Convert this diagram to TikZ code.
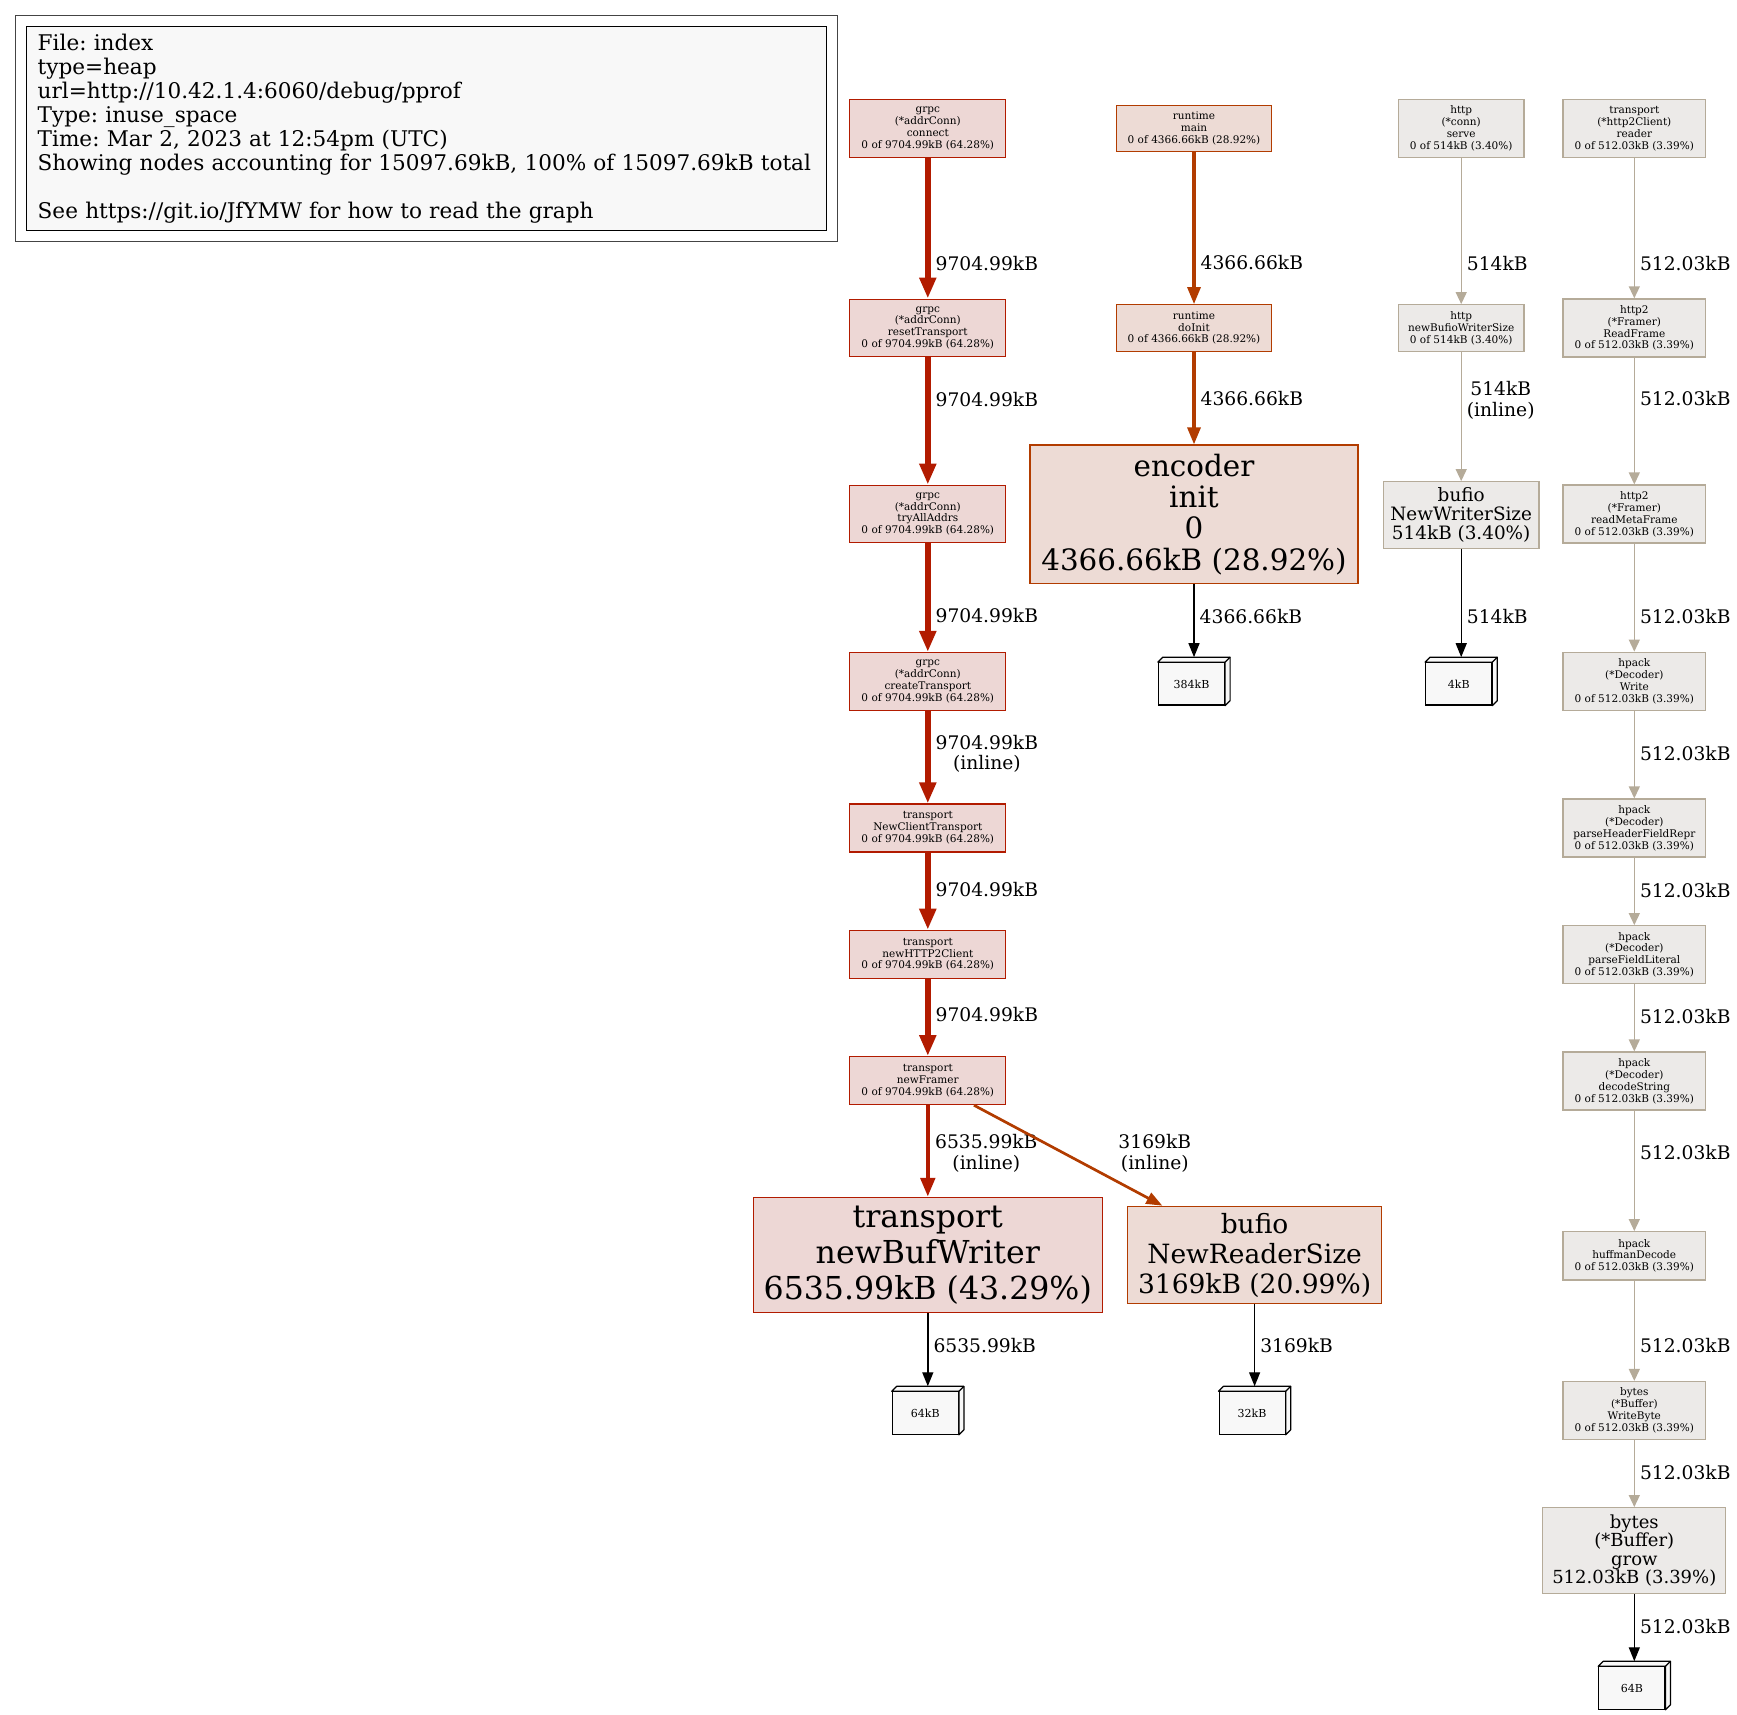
\documentclass[tikz,border=0pt]{standalone}
\usepackage{fontspec}
\setmainfont{DejaVu Serif}
\usepackage{tikz}
\usetikzlibrary{arrows.meta}
\frenchspacing
\definecolor{hotLine}{HTML}{B21B00}
\definecolor{hotFill}{HTML}{EDD7D5}
\definecolor{warmLine}{HTML}{B23C00}
\definecolor{warmFill}{HTML}{EDDBD5}
\definecolor{coldLine}{HTML}{B5AB99}
\definecolor{coldFill}{HTML}{ECEAE8}
\definecolor{memFill}{HTML}{F8F8F8}
\definecolor{legendFrame}{HTML}{444444}

\begin{document}
\begin{tikzpicture}[x=1pt, y=-1pt,
        fn/.style={draw, rectangle, align=center, inner sep=0pt, line width=1.2pt, font=\fontsize{10.5}{11.9}\selectfont},
        hotfn/.style={fn, fill=hotFill, draw=hotLine, minimum width=156},
        warmfn/.style={fn, fill=warmFill, draw=warmLine},
        coldfn/.style={fn, fill=coldFill, draw=coldLine},
        rows4/.style={minimum height=57.6},
        rows3/.style={minimum height=48},
        mem/.style={draw=black, fill=memFill, line width=1.2pt, minimum width=66, minimum height=42.3, inner sep=0pt, font=\fontsize{11}{12}\selectfont},
        lbl/.style={anchor=west, xshift=5pt, inner sep=0pt, align=center, font=\fontsize{18.7}{20.7}\selectfont},
        hotarr/.style={-{Triangle[length=21pt, width=16pt]}, line width=5.7pt, draw=hotLine},
        hotarrb/.style={-{Triangle[length=19pt, width=14pt]}, line width=4.6pt, draw=hotLine},
        warmarr/.style={-{Triangle[length=17pt, width=13pt]}, line width=3.2pt, draw=warmLine},
        warmarrb/.style={-{Triangle[length=16pt, width=12pt]}, line width=2.7pt, draw=warmLine},
        coldarr/.style={-{Triangle[length=12pt, width=11pt]}, line width=1.4pt, draw=coldLine},
        memarr/.style={-{Triangle[length=14pt, width=11pt]}, line width=1.4pt, draw=black}
    ]
    \useasboundingbox (0,0) rectangle (1737,1715);

    % Legend
    \node[draw=black, line width=1pt, fill=memFill, minimum width=799.8, minimum height=203.3,
          text width=777.8, inner xsep=11pt, inner ysep=0pt, align=left,
          font=\fontsize{21.6}{24}\selectfont] (legend) at (426.6, 128.35)
          {File: index\\type=heap\\url=http://10.42.1.4:6060/debug/pprof\\Type: inuse\_space\\Time: Mar 2, 2023 at 12:54pm (UTC)\\\mbox{Showing nodes accounting for 15097.69kB, 100\% of 15097.69kB total}\\\mbox{}\\See https://git.io/JfYMW for how to read the graph};
    \draw[draw=legendFrame, line width=1pt] ([shift={(-10.7pt,10.7pt)}]legend.north west) rectangle ([shift={(10.7pt,-10.7pt)}]legend.south east);

    % grpc -> transport
    \node[hotfn, rows4] (gconn) at (927.8, 128.5) {grpc\\(*addrConn)\\connect\\0 of 9704.99kB (64.28\%)};
    \node[hotfn, rows4] (greset) at (927.8, 327.9) {grpc\\(*addrConn)\\resetTransport\\0 of 9704.99kB (64.28\%)};
    \node[hotfn, rows4] (gtry) at (927.8, 514) {grpc\\(*addrConn)\\tryAllAddrs\\0 of 9704.99kB (64.28\%)};
    \node[hotfn, rows4] (gcreate) at (927.8, 681.3) {grpc\\(*addrConn)\\createTransport\\0 of 9704.99kB (64.28\%)};
    \node[hotfn, rows3] (tnct) at (927.8, 828) {transport\\NewClientTransport\\0 of 9704.99kB (64.28\%)};
    \node[hotfn, rows3] (tnh2) at (927.8, 954.3) {transport\\newHTTP2Client\\0 of 9704.99kB (64.28\%)};
    \node[hotfn, rows3] (tnf) at (927.8, 1080.6) {transport\\newFramer\\0 of 9704.99kB (64.28\%)};
    \node[hotfn, minimum width=349, minimum height=115, font=\fontsize{31.6}{36}\selectfont] (tbw) at (927.8, 1255) {transport\\newBufWriter\\6535.99kB (43.29\%)};
    \node[mem] (m64k) at (925.3, 1413) {64kB};

    % runtime -> encoder
    \node[warmfn, minimum width=155, minimum height=46.6] (rmain) at (1194, 128.5) {runtime\\main\\0 of 4366.66kB (28.92\%)};
    \node[warmfn, minimum width=155, minimum height=46.6] (rinit) at (1194, 328) {runtime\\doInit\\0 of 4366.66kB (28.92\%)};
    \node[warmfn, minimum width=328, minimum height=138.8, font=\fontsize{29.4}{31.4}\selectfont] (enc) at (1194, 514.4) {encoder\\init\\0\\4366.66kB (28.92\%)};
    \node[mem] (m384) at (1191.5, 683.9) {384kB};

    % bufio reader
    \node[warmfn, minimum width=253.6, minimum height=97.5, font=\fontsize{26.5}{30}\selectfont] (brs) at (1254.6, 1255) {bufio\\NewReaderSize\\3169kB (20.99\%)};
    \node[mem] (m32k) at (1252.1, 1413) {32kB};

    % http -> bufio writer
    \node[coldfn, minimum width=125.7, rows4] (hserve) at (1461.2, 128.5) {http\\(*conn)\\serve\\0 of 514kB (3.40\%)};
    \node[coldfn, minimum width=125.7, minimum height=46.6] (hnbws) at (1461.2, 328) {http\\newBufioWriterSize\\0 of 514kB (3.40\%)};
    \node[coldfn, minimum width=155.7, minimum height=66.6, font=\fontsize{18.4}{18.8}\selectfont] (bnws) at (1461.2, 515) {bufio\\NewWriterSize\\514kB (3.40\%)};
    \node[mem] (m4) at (1458.7, 683.9) {4kB};

    % transport reader -> bytes
    \node[coldfn, minimum width=142.7, minimum height=58] (treader) at (1634.3, 128.6) {transport\\(*http2Client)\\reader\\0 of 512.03kB (3.39\%)};
    \node[coldfn, minimum width=142.7, minimum height=58] (frf) at (1634.3, 327.9) {http2\\(*Framer)\\ReadFrame\\0 of 512.03kB (3.39\%)};
    \node[coldfn, minimum width=142.7, minimum height=58] (frmf) at (1634.3, 514) {http2\\(*Framer)\\readMetaFrame\\0 of 512.03kB (3.39\%)};
    \node[coldfn, minimum width=142.7, minimum height=58] (dwrite) at (1634.3, 681.2) {hpack\\(*Decoder)\\Write\\0 of 512.03kB (3.39\%)};
    \node[coldfn, minimum width=142.7, minimum height=58] (dphfr) at (1634.3, 828) {hpack\\(*Decoder)\\parseHeaderFieldRepr\\0 of 512.03kB (3.39\%)};
    \node[coldfn, minimum width=142.7, minimum height=58] (dpfl) at (1634.3, 954.7) {hpack\\(*Decoder)\\parseFieldLiteral\\0 of 512.03kB (3.39\%)};
    \node[coldfn, minimum width=142.7, minimum height=58] (dds) at (1634.3, 1081) {hpack\\(*Decoder)\\decodeString\\0 of 512.03kB (3.39\%)};
    \node[coldfn, minimum width=142.7, minimum height=48.3] (dhuff) at (1634.3, 1255.8) {hpack\\huffmanDecode\\0 of 512.03kB (3.39\%)};
    \node[coldfn, minimum width=142.7, minimum height=58] (bwb) at (1634.3, 1410.5) {bytes\\(*Buffer)\\WriteByte\\0 of 512.03kB (3.39\%)};
    \node[coldfn, minimum width=183, minimum height=85.7, font=\fontsize{18}{18.6}\selectfont] (bgrow) at (1634.3, 1550.5) {bytes\\(*Buffer)\\grow\\512.03kB (3.39\%)};
    \node[mem] (m64b) at (1631.8, 1688) {64B};

    % 3d faces of the memory boxes
    \foreach \m in {m64k, m384, m32k, m4, m64b} {
        \filldraw[fill=memFill, line width=1.2pt, line join=round] (\m.north west) -- ++(5,-5) -- ([shift={(5pt,5pt)}]\m.north east) -- ([shift={(5pt,5pt)}]\m.south east) -- (\m.south east) -- (\m.north east) -- cycle;
        \draw[line width=1.2pt] (\m.north east) -- ++(5,-5);
    }

    % Edges grpc -> transport
    \draw[hotarr] (gconn) -- node[lbl, pos=0.748] (e1) {9704.99kB} (greset);
    \draw[hotarr] (greset) -- node[lbl, pos=0.328] (e2) {9704.99kB} (gtry);
    \draw[hotarr] (gtry) -- node[lbl, pos=0.667] (e3) {9704.99kB} (gcreate);
    \draw[hotarr] (gcreate) -- node[lbl, pos=0.465] (e4) {9704.99kB\\(inline)} (tnct);
    \draw[hotarr] (tnct) -- node[lbl, pos=0.475] (e5) {9704.99kB} (tnh2);
    \draw[hotarr] (tnh2) -- node[lbl, pos=0.465] (e6) {9704.99kB} (tnf);
    \draw[hotarrb] (tnf) -- node[lbl, pos=0.524] (e7) {6535.99kB\\(inline)} (tbw);
    \draw[warmarrb] (tnf) -- node[lbl, pos=0.477, anchor=center, xshift=86pt] (e8) {3169kB\\(inline)} (brs);
    \draw[memarr] (tbw) -- node[lbl, pos=0.438] (e9) {6535.99kB} ([shift={(2.5pt,5pt)}]m64k.north);
    \draw[memarr] (brs) -- node[lbl, pos=0.497] (e10) {3169kB} ([shift={(2.5pt,5pt)}]m32k.north);

    % Edges runtime -> encoder
    \draw[warmarr] (rmain) -- node[lbl, pos=0.729] (e11) {4366.66kB} (rinit);
    \draw[warmarr] (rinit) -- node[lbl, pos=0.507] (e12) {4366.66kB} (enc);
    \draw[memarr] (enc) -- node[lbl, pos=0.442] (e13) {4366.66kB} ([shift={(2.5pt,5pt)}]m384.north);

    % Edges http -> bufio
    \draw[coldarr] (hserve) -- node[lbl, pos=0.724] (e14) {514kB} (hnbws);
    \draw[coldarr] (hnbws) -- node[lbl, pos=0.374] (e15) {514kB\\(inline)} (bnws);
    \draw[memarr] (bnws) -- node[lbl, pos=0.628] (e16) {514kB} ([shift={(2.5pt,5pt)}]m4.north);

    % Edges transport reader -> bytes
    \draw[coldarr] (treader) -- node[lbl, pos=0.753] (e17) {512.03kB} (frf);
    \draw[coldarr] (frf) -- node[lbl, pos=0.327] (e18) {512.03kB} (frmf);
    \draw[coldarr] (frmf) -- node[lbl, pos=0.673] (e19) {512.03kB} (dwrite);
    \draw[coldarr] (dwrite) -- node[lbl, pos=0.487] (e20) {512.03kB} (dphfr);
    \draw[coldarr] (dphfr) -- node[lbl, pos=0.481] (e21) {512.03kB} (dpfl);
    \draw[coldarr] (dpfl) -- node[lbl, pos=0.483] (e22) {512.03kB} (dds);
    \draw[coldarr] (dds) -- node[lbl, pos=0.351] (e23) {512.03kB} (dhuff);
    \draw[coldarr] (dhuff) -- node[lbl, pos=0.644] (e24) {512.03kB} (bwb);
    \draw[coldarr] (bwb) -- node[lbl, pos=0.477] (e25) {512.03kB} (bgrow);
    \draw[memarr] (bgrow) -- node[lbl, pos=0.481] (e26) {512.03kB} ([shift={(2.5pt,5pt)}]m64b.north);

    \end{tikzpicture}
\end{document}
